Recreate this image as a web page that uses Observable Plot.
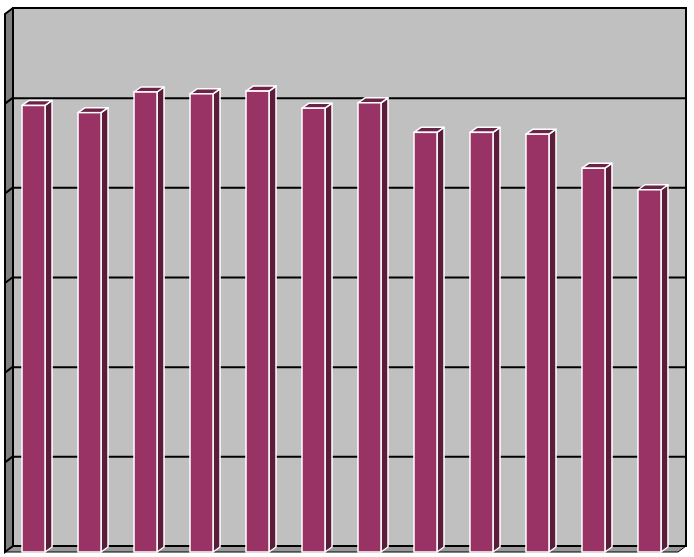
<!DOCTYPE html>
<html><head><meta charset="utf-8">
<script src="https://cdn.jsdelivr.net/npm/d3@7"></script>
<script src="https://cdn.jsdelivr.net/npm/@observablehq/plot@0.6"></script>
<style>html,body{margin:0;padding:0;background:#fff}#chart svg{display:block}</style>
</head><body><div id="chart"></div>
<script>
// ---- data ----
const categories = ["1","2","3","4","5","6","7","8","9","10","11","12"];
const values = [4.98, 4.90, 5.13, 5.11, 5.14, 4.95, 5.01, 4.68, 4.68, 4.66, 4.28, 4.04];
const gridTicks = [1, 2, 3, 4, 5];
const yMax = 6;

const data = categories.map((c, i) => ({category: c, value: values[i]}));

// 3D depth offsets (pixels)
const DX = 8, DY = -6;   // walls / floor depth
const BDX = 7, BDY = -5; // bar depth

function bw(sx) { return typeof sx.bandwidth === "function" ? sx.bandwidth() : sx.bandwidth; }

function wallsMark(index, scales, vals, dim) {
  const y = scales.y;
  const x0 = dim.marginLeft, x1 = dim.width - dim.marginRight;
  const yb = y(0), yt = y(yMax);
  const g = d3.create("svg:g");
  g.append("rect").attr("x", x0 + DX).attr("y", yt + DY).attr("width", x1 - x0).attr("height", yb - yt).attr("fill", "#c0c0c0");
  g.append("path").attr("d", `M${x0},${yt}L${x0+DX},${yt+DY}L${x0+DX},${yb+DY}L${x0},${yb}Z`)
    .attr("fill", "#808080");
  g.append("path").attr("d", `M${x0},${yb}L${x0+DX},${yb+DY}L${x1+DX},${yb+DY}L${x1},${yb}Z`)
    .attr("fill", "#999999");
  for (const t of gridTicks) {
    g.append("line").attr("x1", x0).attr("y1", y(t)).attr("x2", x0 + DX).attr("y2", y(t) + DY)
      .attr("stroke", "black").attr("stroke-width", 2);
  }
  return g.node();
}

function borderMark(index, scales, vals, dim) {
  const y = scales.y;
  const x0 = dim.marginLeft, x1 = dim.width - dim.marginRight;
  const yb = y(0), yt = y(yMax);
  const g = d3.create("svg:g").attr("fill", "none").attr("stroke", "black");
  g.append("path").attr("d", `M${x0+DX},${yb+DY}V${yt+DY}H${x1+DX}V${yb+DY}H${x0+DX}`).attr("stroke-width", 2);
  g.append("path").attr("d", `M${x0+DX},${yt+DY}L${x0},${yt}V${yb}L${x0+DX},${yb+DY}`).attr("stroke-width", 2);
  g.append("path").attr("d", `M${x0},${yb}H${x1}L${x1+DX},${yb+DY}`).attr("stroke-width", 1);
  return g.node();
}

function barDepthMark(index, scales, vals, dim) {
  const x = scales.x, y = scales.y, w = bw(x);
  const g = d3.create("svg:g").attr("stroke", "white").attr("stroke-width", 1.5).attr("stroke-linejoin", "round");
  const y0 = y(0);
  for (const d of data) {
    const xl = x(d.category), xr = xl + w, yt = y(d.value);
    g.append("path").attr("fill", "#5c1c3c")
      .attr("d", `M${xr},${y0}L${xr+BDX},${y0+BDY}L${xr+BDX},${yt+BDY}L${xr},${yt}Z`);
    g.append("path").attr("fill", "#6d2347")
      .attr("d", `M${xl},${yt}L${xl+BDX},${yt+BDY}L${xr+BDX},${yt+BDY}L${xr},${yt}Z`);
  }
  return g.node();
}

const chart = Plot.plot({
  width: 694,
  height: 557,
  marginLeft: 5,
  marginRight: 16,
  marginTop: 14,
  marginBottom: 5,
  style: {background: "white"},
  x: {type: "band", domain: categories, paddingInner: 0.589, paddingOuter: 0.304, round: false, axis: null},
  y: {domain: [0, yMax], axis: null},
  marks: [
    wallsMark,
    Plot.ruleY(gridTicks, {dx: DX, dy: DY, stroke: "black", strokeWidth: 2}),
    borderMark,
    barDepthMark,
    Plot.barY(data, {x: "category", y: "value", fill: "#993366", stroke: "white", strokeWidth: 1.5})
  ]
});
document.getElementById("chart").appendChild(chart);
</script>
</body></html>
